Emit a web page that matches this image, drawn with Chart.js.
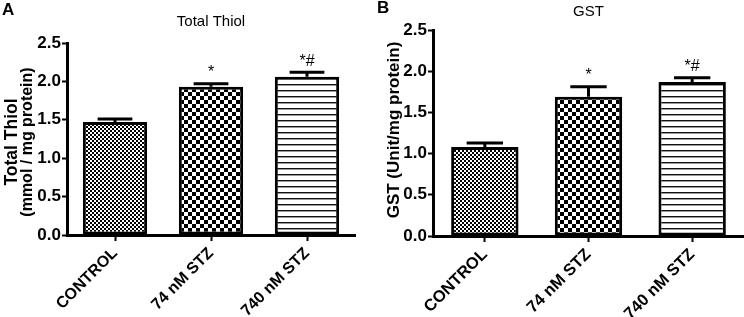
<!DOCTYPE html>
<html>
<head>
<meta charset="utf-8">
<script src="https://cdn.jsdelivr.net/npm/chart.js@4.4.0/dist/chart.umd.min.js"></script>
<style>
    html, body {margin: 0; padding: 0; background: #fff;}
    #wrap {display: flex; width: 744px; height: 317px;}
    .panel {position: relative; width: 372px; height: 317px;}
</style>
</head>
<body>
<div id="wrap">
    <div class="panel"><canvas id="chartA" width="372" height="317"></canvas></div>
    <div class="panel"><canvas id="chartB" width="372" height="317"></canvas></div>
</div>
<script>
// data
const groups = ['CONTROL', '74 nM STZ', '740 nM STZ'];
const thiolMean = [1.47, 1.93, 2.06];
const thiolSem = [0.04, 0.04, 0.06];
const gstMean = [1.08, 1.69, 1.87];
const gstSem = [0.05, 0.12, 0.05];
const signif = ['', '*', '*#'];
const yTicks = [0, 0.5, 1.0, 1.5, 2.0, 2.5];

const FONT = '"Liberation Sans", Arial, sans-serif';

function makePattern(kind) {
    let c = document.createElement('canvas');
    let g = c.getContext('2d');
    if (kind === 'fine') {
        c.width = 4; c.height = 4;
        g.fillStyle = '#fff'; g.fillRect(0, 0, 4, 4);
        g.fillStyle = '#000';
        g.fillRect(0, 0, 2, 2); g.fillRect(2, 2, 2, 2);
    } else if (kind === 'checker') {
        c.width = 8; c.height = 8;
        g.fillStyle = '#fff'; g.fillRect(0, 0, 8, 8);
        g.fillStyle = '#000';
        g.fillRect(0, 0, 4, 4); g.fillRect(4, 4, 4, 4);
    } else {
        c.width = 6; c.height = 6;
        g.fillStyle = '#fff'; g.fillRect(0, 0, 6, 6);
        g.fillStyle = '#111';
        g.fillRect(0, 0, 6, 1);
        g.fillStyle = '#999';
        g.fillRect(0, 1, 6, 1);
    }
    return g.createPattern(c, 'repeat');
}

const fills = [makePattern('fine'), makePattern('checker'), makePattern('lines')];

// error bars, significance marks and panel texts
const decorPlugin = {
    id: 'decor',
    afterDatasetsDraw(chart, args, opts) {
        let ctx = chart.ctx;
        let yScale = chart.scales.y;
        let meta = chart.getDatasetMeta(0);
        ctx.save();
        ctx.strokeStyle = '#000';
        ctx.lineWidth = 3;
        meta.data.forEach((bar, i) => {
            let top = yScale.getPixelForValue(opts.mean[i] + opts.sem[i]);
            let half = bar.width * 0.27;
            ctx.beginPath();
            ctx.moveTo(bar.x, bar.y);
            ctx.lineTo(bar.x, top);
            ctx.moveTo(bar.x - half, top);
            ctx.lineTo(bar.x + half, top);
            ctx.stroke();
            if (signif[i]) {
                ctx.fillStyle = '#000';
                ctx.font = '16px ' + FONT;
                ctx.textAlign = 'center';
                ctx.textBaseline = 'bottom';
                ctx.fillText(signif[i], bar.x, top - 3);
            }
        });
        ctx.restore();
    },
    afterDraw(chart, args, opts) {
        let ctx = chart.ctx;
        let area = chart.chartArea;
        ctx.save();
        ctx.fillStyle = '#000';
        ctx.textBaseline = 'middle';
        ctx.textAlign = 'left';
        ctx.font = 'bold 17px ' + FONT;
        ctx.fillText(opts.letter, opts.letterX, opts.letterY);
        ctx.textAlign = 'center';
        ctx.font = '15px ' + FONT;
        ctx.fillText(opts.title, (area.left + area.right) / 2, opts.titleY);
        opts.yTitle.forEach((line, k) => {
            ctx.save();
            ctx.font = 'bold ' + opts.yTitleSize[k] + 'px ' + FONT;
            ctx.translate(opts.yTitleX[k], opts.yTitleY);
            ctx.rotate(-Math.PI / 2);
            ctx.fillText(line, 0, 0);
            ctx.restore();
        });
        ctx.restore();
    }
};

function drawPanel(id, mean, sem, p) {
    let ctx = document.getElementById(id);
    return new Chart(ctx, {
        type: 'bar',
        data: {
            labels: groups,
            datasets: [{
                data: mean,
                backgroundColor: fills,
                borderColor: '#000',
                borderWidth: 3,
                borderSkipped: false,
                categoryPercentage: 1,
                barPercentage: p.barPct
            }]
        },
        plugins: [decorPlugin],
        options: {
            responsive: false,
            animation: false,
            devicePixelRatio: 1,
            layout: {padding: {left: 0, right: p.padRight, top: p.padTop, bottom: 0}},
            scales: {
                x: {
                    afterFit: scale => { scale.height = p.xHeight; },
                    grid: {display: true, drawOnChartArea: false, offset: false, tickLength: 6, tickWidth: 2, tickColor: '#000'},
                    border: {display: true, color: '#000', width: 3},
                    ticks: {
                        color: '#000',
                        font: {family: FONT, size: p.xFont, weight: 'bold'},
                        minRotation: 45, maxRotation: 45,
                        padding: 3
                    }
                },
                y: {
                    min: 0, max: 2.5,
                    afterFit: scale => { scale.width = p.yWidth; },
                    afterBuildTicks: scale => { scale.ticks = yTicks.map(v => ({value: v})); },
                    grid: {display: true, drawOnChartArea: false, tickLength: 5, tickWidth: 2, tickColor: '#000'},
                    border: {display: true, color: '#000', width: 3},
                    ticks: {
                        color: '#000',
                        font: {family: FONT, size: p.yFont, weight: 'bold'},
                        padding: 1,
                        callback: v => Number(v).toFixed(1)
                    }
                }
            },
            plugins: {
                legend: {display: false},
                title: {display: false},
                tooltip: {enabled: false},
                decor: {
                    mean: mean, sem: sem,
                    letter: p.letter, letterX: p.letterX, letterY: p.letterY,
                    title: p.title, titleY: p.titleY,
                    yTitle: p.yTitle, yTitleX: p.yTitleX, yTitleY: p.yTitleY, yTitleSize: p.yTitleSize
                }
            }
        }
    });
}

drawPanel('chartA', thiolMean, thiolSem, {
    barPct: 0.67, padRight: 17, padTop: 43, xHeight: 82, yWidth: 67,
    xFont: 16, yFont: 17,
    letter: 'A', letterX: 2, letterY: 10,
    title: 'Total Thiol', titleY: 22,
    yTitle: ['Total Thiol', '(mmol / mg protein)'], yTitleX: [12, 28], yTitleY: 142,
    yTitleSize: [17.5, 16]
});

drawPanel('chartB', gstMean, gstSem, {
    barPct: 0.65, padRight: 0, padTop: 30, xHeight: 81, yWidth: 61,
    xFont: 16.5, yFont: 17,
    letter: 'B', letterX: 5, letterY: 8,
    title: 'GST', titleY: 12,
    yTitle: ['GST (Unit/mg protein)'], yTitleX: [22], yTitleY: 130, yTitleSize: [17]
});
</script>
</body>
</html>
